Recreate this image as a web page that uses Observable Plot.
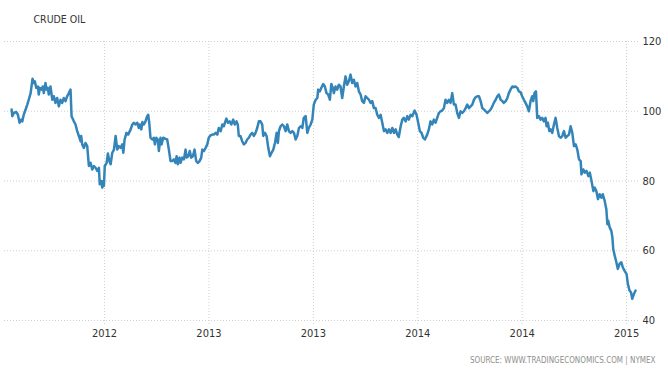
<!DOCTYPE html>
<html>
<head>
<meta charset="utf-8">
<script src="https://cdn.jsdelivr.net/npm/d3@7"></script>
<script src="https://cdn.jsdelivr.net/npm/@observablehq/plot@0.6"></script>
<style>
  html, body { margin: 0; padding: 0; background: #fff; }
  #chart svg { display: block; }
</style>
</head>
<body>
<div id="chart"></div>
<script>
const title = "CRUDE OIL";
const source = "SOURCE: WWW.TRADINGECONOMICS.COM | NYMEX";

// x tick positions (decimal years) and their labels as shown on the chart
const tickYears = [2012.5, 2013, 2013.5, 2014, 2014.5, 2015];
const tickLabels = ["2012", "2013", "2013", "2014", "2014", "2015"];
const yTicks = [40, 60, 80, 100, 120];

// dates as decimal years
const years = [
2012.055,2012.058,2012.066,2012.077,2012.085,2012.093,2012.101,2012.106,2012.113,2012.122,
2012.130,2012.137,2012.146,2012.155,2012.161,2012.166,2012.173,2012.181,2012.185,2012.190,
2012.198,2012.204,2012.209,2012.217,2012.222,2012.228,2012.233,2012.241,2012.250,2012.257,
2012.265,2012.273,2012.281,2012.289,2012.297,2012.305,2012.313,2012.321,2012.329,2012.337,
2012.342,2012.353,2012.361,2012.369,2012.377,2012.385,2012.388,2012.393,2012.401,2012.409,
2012.417,2012.425,2012.433,2012.441,2012.449,2012.457,2012.465,2012.473,2012.477,2012.484,
2012.489,2012.494,2012.497,2012.501,2012.510,2012.516,2012.523,2012.529,2012.537,2012.545,
2012.553,2012.561,2012.568,2012.577,2012.585,2012.590,2012.596,2012.605,2012.613,2012.625,
2012.633,2012.640,2012.648,2012.657,2012.664,2012.669,2012.676,2012.681,2012.688,2012.696,
2012.704,2012.709,2012.714,2012.720,2012.728,2012.736,2012.741,2012.748,2012.755,2012.760,
2012.768,2012.773,2012.781,2012.792,2012.800,2012.808,2012.816,2012.824,2012.832,2012.840,
2012.845,2012.851,2012.859,2012.864,2012.872,2012.880,2012.888,2012.893,2012.901,2012.908,
2012.915,2012.923,2012.931,2012.939,2012.947,2012.955,2012.963,2012.968,2012.976,2012.984,
2012.992,2012.999,2013.008,2013.016,2013.023,2013.032,2013.040,2013.047,2013.056,2013.064,
2013.071,2013.083,2013.091,2013.099,2013.107,2013.116,2013.124,2013.132,2013.138,2013.143,
2013.151,2013.159,2013.167,2013.175,2013.183,2013.191,2013.199,2013.207,2013.215,2013.223,
2013.231,2013.239,2013.247,2013.255,2013.260,2013.268,2013.276,2013.284,2013.292,2013.300,
2013.308,2013.316,2013.324,2013.330,2013.335,2013.343,2013.351,2013.359,2013.367,2013.375,
2013.383,2013.391,2013.399,2013.407,2013.415,2013.423,2013.431,2013.439,2013.447,2013.454,
2013.463,2013.471,2013.478,2013.487,2013.495,2013.502,2013.511,2013.519,2013.523,2013.531,
2013.538,2013.547,2013.555,2013.563,2013.571,2013.579,2013.586,2013.593,2013.598,2013.606,
2013.614,2013.622,2013.630,2013.638,2013.646,2013.654,2013.662,2013.670,2013.678,2013.686,
2013.694,2013.702,2013.710,2013.718,2013.726,2013.734,2013.742,2013.750,2013.758,2013.766,
2013.774,2013.782,2013.790,2013.798,2013.806,2013.814,2013.822,2013.830,2013.838,2013.846,
2013.854,2013.862,2013.870,2013.878,2013.886,2013.894,2013.902,2013.909,2013.918,2013.926,
2013.933,2013.942,2013.950,2013.957,2013.966,2013.974,2013.985,2013.994,2014.002,2014.010,
2014.018,2014.026,2014.034,2014.045,2014.053,2014.061,2014.069,2014.077,2014.085,2014.093,
2014.101,2014.109,2014.117,2014.125,2014.133,2014.141,2014.149,2014.157,2014.165,2014.173,
2014.181,2014.189,2014.197,2014.205,2014.213,2014.221,2014.229,2014.237,2014.245,2014.253,
2014.261,2014.269,2014.277,2014.285,2014.293,2014.301,2014.309,2014.317,2014.325,2014.333,
2014.341,2014.349,2014.357,2014.364,2014.373,2014.381,2014.388,2014.397,2014.405,2014.412,
2014.421,2014.429,2014.436,2014.444,2014.453,2014.460,2014.468,2014.477,2014.484,2014.492,
2014.500,2014.508,2014.516,2014.524,2014.532,2014.540,2014.548,2014.553,2014.559,2014.566,
2014.572,2014.580,2014.588,2014.596,2014.604,2014.612,2014.617,2014.623,2014.630,2014.636,
2014.644,2014.652,2014.660,2014.668,2014.676,2014.684,2014.692,2014.700,2014.708,2014.716,
2014.724,2014.732,2014.740,2014.748,2014.756,2014.764,2014.772,2014.780,2014.784,2014.793,
2014.800,2014.808,2014.817,2014.824,2014.832,2014.841,2014.847,2014.855,2014.863,2014.871,
2014.879,2014.886,2014.895,2014.903,2014.908,2014.912,2014.919,2014.927,2014.932,2014.936,
2014.943,2014.951,2014.958,2014.966,2014.975,2014.982,2014.990,2015.000,2015.006,2015.014,
2015.021,2015.027,2015.035,2015.043
];

// crude oil price, USD per barrel
const prices = [
100.5,98.6,99.5,99.8,99.0,96.7,97.6,97.1,99.0,100.5,
101.9,103.3,105.2,109.3,108.1,108.6,106.7,107.1,104.8,106.7,
106.2,107.1,105.2,108.1,106.2,106.7,104.8,107.1,103.3,104.3,
102.4,103.8,101.4,103.3,102.4,103.8,102.9,104.3,105.2,106.2,
98.6,97.1,96.2,94.3,92.9,91.4,92.9,90.5,89.5,90.9,
90.0,84.3,85.2,83.3,84.3,83.8,82.9,83.8,79.1,80.0,
78.1,80.0,78.6,84.3,85.2,87.9,85.7,84.8,88.1,89.0,
92.9,89.0,90.0,89.5,90.5,88.1,91.9,93.8,93.3,94.8,
96.2,96.7,96.2,96.7,95.2,96.2,94.8,96.9,96.2,97.1,
98.6,99.0,96.7,92.4,91.9,92.4,90.5,92.4,91.9,88.6,
92.4,90.5,92.4,92.1,91.9,89.0,85.7,85.7,86.2,85.2,
87.1,84.8,86.7,85.2,86.7,86.2,89.0,86.7,87.1,88.6,
86.7,87.1,89.0,85.7,85.2,85.7,86.7,89.0,88.6,89.5,
90.5,92.4,93.1,93.3,93.3,93.8,93.3,95.2,94.3,96.2,
95.7,97.9,96.7,97.1,96.2,97.6,96.2,97.1,96.2,92.9,
92.9,91.4,90.5,90.9,91.9,92.4,93.3,93.8,92.9,93.8,
95.2,97.1,97.1,96.2,92.9,93.8,92.9,89.5,87.1,88.1,
89.0,90.9,93.8,90.9,94.3,95.7,96.2,95.7,94.3,96.2,
94.3,93.8,94.3,93.8,91.9,92.9,95.2,95.7,95.2,98.1,
98.6,93.8,95.2,96.2,97.6,101.9,103.3,103.8,106.2,105.7,
106.7,107.8,107.1,105.2,104.8,103.3,107.8,106.7,105.2,107.1,
106.2,107.6,107.1,103.8,107.1,110.0,107.6,108.6,110.5,108.1,
109.0,107.1,108.1,105.7,104.8,102.9,102.4,104.3,103.8,103.3,
102.4,102.9,100.9,100.9,99.0,98.1,99.0,96.7,94.3,94.8,
93.8,94.8,93.8,95.2,93.8,94.8,93.3,92.6,95.7,97.6,
98.1,97.1,98.6,97.6,99.0,98.6,100.2,99.0,96.7,94.3,
93.8,92.4,91.9,93.3,94.8,97.1,96.2,97.6,96.7,98.1,
99.5,100.0,100.2,100.9,103.3,102.4,103.3,102.4,105.2,101.9,
101.9,99.5,98.1,100.0,99.5,100.0,100.9,101.9,100.9,101.4,
101.9,103.3,104.0,104.3,104.3,102.9,100.9,100.5,100.0,99.5,
100.0,100.5,101.4,102.4,103.3,104.3,104.8,103.3,102.9,102.4,
102.9,103.8,105.2,106.2,107.1,106.9,107.1,106.7,105.7,105.5,
104.3,103.3,102.4,101.4,100.0,102.9,104.3,102.9,105.2,105.7,
98.1,98.6,97.6,98.1,97.1,98.1,95.7,96.7,94.3,94.8,
93.8,96.2,98.1,95.2,92.9,92.4,92.9,94.3,92.4,92.9,
93.3,95.7,93.8,90.0,90.5,89.0,86.2,85.7,81.9,83.3,
82.4,82.9,81.4,82.4,80.0,77.1,78.1,77.1,74.8,76.2,
75.2,76.2,74.3,71.9,67.6,68.6,66.7,65.7,63.8,60.5,
58.6,56.7,54.8,56.2,56.7,55.2,54.3,53.3,50.5,48.6,
48.1,46.2,47.6,48.6
];

const data = years.map((t, i) => ({ t, v: prices[i] }));

const font = "'DejaVu Sans Condensed', 'Liberation Sans Narrow', 'Arial Narrow', sans-serif";

const chart = Plot.plot({
  width: 668,
  height: 374,
  marginTop: 41,
  marginBottom: 54,
  marginLeft: 8,
  marginRight: 30,
  style: { fontFamily: font, background: "#fff", color: "#333" },
  x: { type: "linear", domain: [2012.040, 2015.057] },
  y: { domain: [40, 120] },
  marks: [
    Plot.ruleY(yTicks, { stroke: "#cfcfcf", strokeDasharray: "1,2", insetLeft: -4 }),
    Plot.ruleX(tickYears, { stroke: "#cfcfcf", strokeDasharray: "1,2", insetBottom: -6 }),
    Plot.line(data, { x: "t", y: "v", stroke: "#3384b9", strokeWidth: 2.5, strokeLinejoin: "round" }),
    Plot.axisY({ anchor: "right", ticks: yTicks, tickSize: 0, tickPadding: 4, fontSize: 11, fill: "#333", label: null }),
    Plot.axisX({ ticks: tickYears, tickFormat: d => tickLabels[tickYears.indexOf(d)], tickSize: 0, tickPadding: 9, fontSize: 11, fill: "#333", label: null }),
    Plot.text([title], { frameAnchor: "top-left", dx: 25, dy: -22, textAnchor: "start", lineAnchor: "middle", fontSize: 10.5, fill: "#333" }),
    Plot.text([source], { frameAnchor: "bottom-right", dx: 17, dy: 40, textAnchor: "end", lineAnchor: "middle", fontSize: 8, fill: "#8e8e8e" })
  ]
});

document.getElementById("chart").appendChild(chart);
</script>
</body>
</html>
